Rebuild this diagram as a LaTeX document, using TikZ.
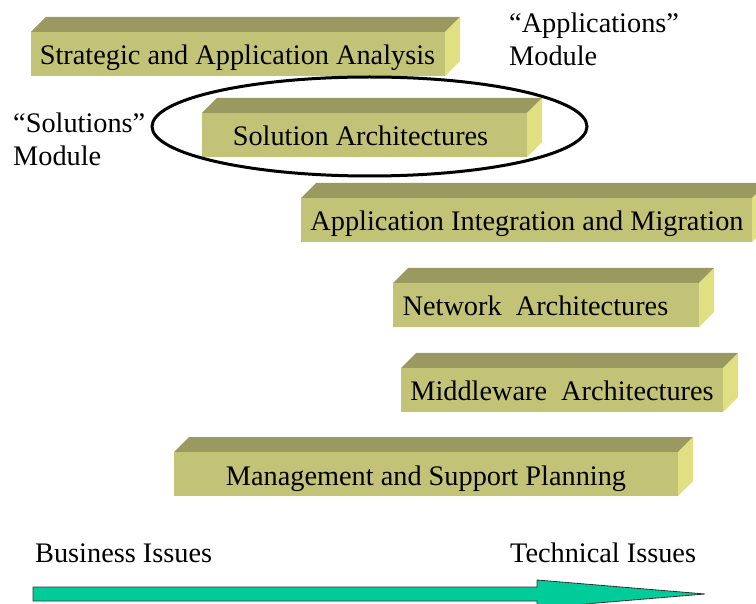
\documentclass[tikz,border=0pt]{standalone}
\usepackage{fontspec}
\setmainfont{Liberation Serif}
\definecolor{frontc}{HTML}{C3C378}
\definecolor{topc}{HTML}{999960}
\definecolor{sidec}{HTML}{E0E082}
\definecolor{arrowc}{HTML}{00CC99}
\tikzset{
  lbl/.style={inner sep=0pt, font=\fontsize{28.3}{33.5}\selectfont},
  boxtext/.style={lbl, anchor=base},
  modlabel/.style={lbl, anchor=base west, align=left},
}
% #1 name, #2 left, #3 front top, #4 right, #5 bottom, #6 text x, #7 text
\newcommand{\slab}[7]{%
  \fill[topc] (#2,#3) -- (#2+15,#3-15) -- (#4+15,#3-15) -- (#4,#3) -- cycle;
  \fill[sidec] (#4,#3) -- (#4+15,#3-15) -- (#4+15,#5-15) -- (#4,#5) -- cycle;
  \fill[frontc] (#2,#3) rectangle (#4,#5);
  \node[boxtext] (#1) at (#6,{(#3+#5)/2+11}) {#7};
}
\begin{document}
\begin{tikzpicture}[x=1pt,y=-1pt]
\useasboundingbox (0,0) rectangle (756,604);
\clip (0,0) rectangle (756,604);
\slab{b1}{31}{32}{445}{76}{237.5}{Strategic and Application Analysis}
\slab{b2}{202}{113}{527}{157}{360.5}{Solution Architectures}
\slab{b3}{301}{198}{752}{242}{527}{Application Integration and Migration}
\slab{b4}{393}{283}{699}{327}{535.5}{Network\ \ Architectures}
\slab{b5}{401}{368}{723}{412}{562}{Middleware\ \ Architectures}
\slab{b6}{174}{452}{678}{496}{426}{Management and Support Planning}
\draw[line width=3pt] (369.5,126.5) ellipse [x radius=217.5, y radius=49.5];
\node[modlabel] (appmod) at (509,66) {“Applications”\\Module};
\node[modlabel] (solmod) at (13,166) {“Solutions”\\Module};
\node[boxtext, anchor=base west] (bus) at (35,562) {Business Issues};
\node[boxtext, anchor=base west] (tech) at (510,562) {Technical Issues};
\draw[fill=arrowc, draw=black!80, line width=0.8pt]
  (33,587) -- (537,587) -- (537,580) -- (705,594) -- (537,608) -- (537,601) -- (33,601) -- cycle;
\end{tikzpicture}
\end{document}
